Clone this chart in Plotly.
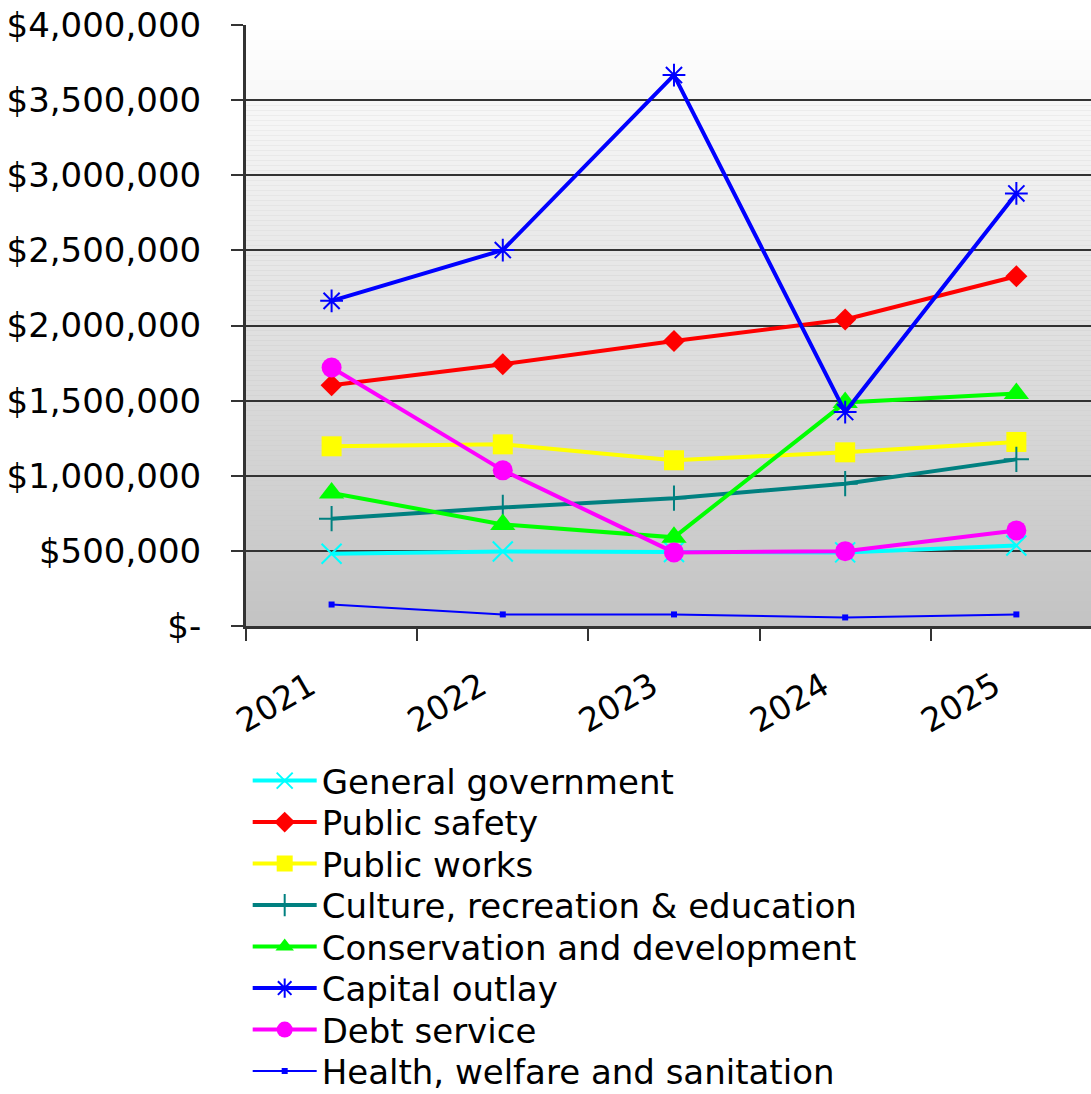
import plotly.graph_objects as go

# Annual expenditures by function, 2021-2025
years = ["2021", "2022", "2023", "2024", "2025"]

general_government = [481000, 496000, 492000, 490000, 536000]
public_safety = [1602000, 1742000, 1897000, 2040000, 2328000]
public_works = [1196000, 1209000, 1103000, 1156000, 1225000]
culture_recreation = [714000, 789000, 851000, 947000, 1109000]
conservation_dev = [885000, 676000, 590000, 1487000, 1547000]
capital_outlay = [2164000, 2502000, 3667000, 1424000, 2879000]
debt_service = [1720000, 1036000, 490000, 498000, 636000]
health_welfare = [143000, 77000, 77000, 57000, 77000]

y_tick_values = [0, 500000, 1000000, 1500000, 2000000, 2500000, 3000000, 3500000, 4000000]
y_tick_text = ["$-", "$500,000", "$1,000,000", "$1,500,000", "$2,000,000",
               "$2,500,000", "$3,000,000", "$3,500,000", "$4,000,000"]

FONT = "DejaVu Sans, Verdana, sans-serif"

series = [
    ("General government", general_government, "#00ffff", "x-thin", 20, 4),
    ("Public safety", public_safety, "#ff0000", "diamond", 17, 4),
    ("Public works", public_works, "#ffff00", "square", 20, 4),
    ("Culture, recreation & education", culture_recreation, "#008080", "cross-thin", 18, 4),
    ("Conservation and development", conservation_dev, "#00ff00", "triangle-up", 22, 4),
    ("Capital outlay", capital_outlay, "#0000ff", "asterisk", 19, 4),
    ("Debt service", debt_service, "#ff00ff", "circle", 20, 4),
    ("Health, welfare and sanitation", health_welfare, "#0000ff", "square", 6, 2),
]

# plot area spans 601 px vertically (paper y 0..1); legend rows sit below it
PLOT_TOP, PLOT_BOTTOM = 25, 626
plot_h = PLOT_BOTTOM - PLOT_TOP
first_row, row_step = 781, 41.5

fig = go.Figure()
legends = {}
for k, (name, values, color, symbol, msize, lwidth) in enumerate(series):
    thin = symbol in ("x-thin", "cross-thin", "asterisk")
    legend_id = "legend" if k == 0 else f"legend{k + 1}"
    fig.add_trace(go.Scatter(
        x=years, y=values, name=name, mode="lines+markers",
        legend=legend_id,
        line=dict(color=color, width=lwidth),
        marker=dict(
            symbol=symbol, size=msize, color=color,
            line=dict(color=color, width=2 if thin else 0),
        ),
    ))
    row_y = first_row + row_step * k
    legends[legend_id] = dict(
        x=0.002, y=(PLOT_BOTTOM - row_y) / plot_h,
        xanchor="left", yanchor="middle",
        font=dict(family=FONT, size=34, color="black"),
        bgcolor="rgba(0,0,0,0)", borderwidth=0, itemwidth=64,
    )

# vertical white-to-grey gradient behind the plot area
bands = 120
shapes = []
for i in range(bands):
    t = (i + 0.5) / bands  # 0 at bottom, 1 at top
    g = int(round(195 + (255 - 195) * t))
    shapes.append(dict(
        type="rect", xref="paper", yref="paper",
        x0=0, x1=1, y0=i / bands, y1=(i + 1) / bands,
        fillcolor=f"rgb({g},{g},{g})", line=dict(width=0), layer="below",
    ))

fig.update_layout(
    width=1091, height=1094,
    margin=dict(l=246, r=0, t=PLOT_TOP, b=1094 - PLOT_BOTTOM, autoexpand=False),
    paper_bgcolor="white", plot_bgcolor="#c3c3c3",
    font=dict(family=FONT, size=33, color="black"),
    shapes=shapes,
    showlegend=True,
    xaxis=dict(
        type="category", range=[-0.5, 4.436],
        tickson="boundaries", ticks="outside", ticklen=12, tickwidth=2,
        tickcolor="#333333", tickangle=-30,
        ticklabelstandoff=25, ticklabelshift=-22,
        showgrid=False, showline=True, linecolor="#333333", linewidth=3,
        zeroline=False, tickfont=dict(family=FONT, size=33),
    ),
    yaxis=dict(
        range=[0, 4000000], tickvals=y_tick_values, ticktext=y_tick_text,
        ticks="outside", ticklen=12, tickwidth=2, tickcolor="#333333",
        showgrid=True, gridcolor="#333333", gridwidth=2,
        showline=True, linecolor="#333333", linewidth=3,
        zeroline=False, ticklabelstandoff=23,
        tickfont=dict(family=FONT, size=34),
    ),
    **legends,
)

fig.write_html("out.html")
